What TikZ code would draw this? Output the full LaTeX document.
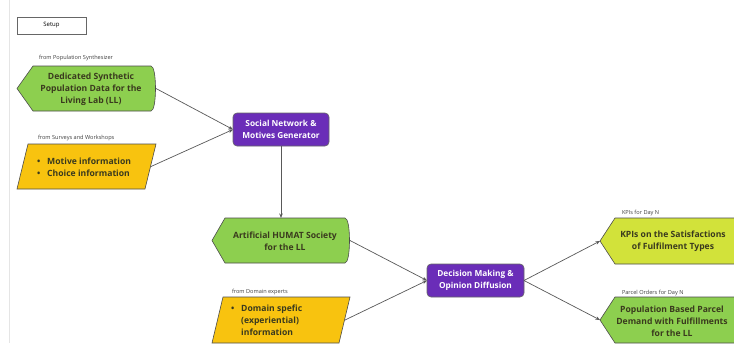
\documentclass[tikz,border=0pt]{standalone}
\usepackage{fontspec}
\setmainfont{Open Sans}
\usetikzlibrary{arrows.meta}
\definecolor{pgreen}{HTML}{8DCF4F}
\definecolor{pyellow}{HTML}{F8C30F}
\definecolor{plime}{HTML}{D2E23A}
\definecolor{ppurple}{HTML}{6A2DB8}
\definecolor{txtdark}{HTML}{3A3A1E}
\newcommand\dispshape[3]{\filldraw[shapeline, fill=#2] ([xshift=#3pt]#1.north west) -- ([xshift=-5pt]#1.north east) .. controls ([xshift=1pt]#1.north east) and ([xshift=1pt]#1.south east) .. ([xshift=-5pt]#1.south east) -- ([xshift=#3pt]#1.south west) -- (#1.west) -- cycle;}
\newcommand\paragram[3]{\filldraw[shapeline, fill=#2] ([xshift=#3pt]#1.north west) -- (#1.north east) -- ([xshift=-#3pt]#1.south east) -- (#1.south west) -- cycle;}
\begin{document}
\begin{tikzpicture}[x=1pt,y=-1pt,
  every node/.style={inner sep=0pt, outer sep=0pt},
  holder/.style={rectangle, anchor=north west},
  boxtext/.style={font=\bfseries\fontsize{8.6}{12}\selectfont, text=txtdark, align=center},
  lbl/.style={font=\fontsize{5.6}{6}\selectfont, text=black!75, anchor=west},
  conn/.style={draw=black!65, line width=0.7pt, -{Stealth[length=4.5pt,width=3.5pt]}},
  purp/.style={rectangle, anchor=north west, rounded corners=4pt, fill=ppurple, draw=black!60, line width=0.6pt, font=\bfseries\fontsize{8.3}{12}\selectfont, text=white, align=center},
  shapeline/.style={draw=black!70, line width=0.6pt}]
\clip (0,0) rectangle (734,343);
\fill[white] (0,0) rectangle (734,343);
\draw[black!10, line width=0.5pt] (9.5,0) -- (9.5,343);

\node[draw=black!60, fill=white, line width=0.6pt, minimum width=69pt, minimum height=17pt, anchor=north west, font=\fontsize{6}{7}\selectfont] (setup) at (17,17) {Setup};

% shape holders
\node[holder, minimum width=139pt, minimum height=45pt] (g1) at (17,66) {};
\node[holder, minimum width=139pt, minimum height=45pt] (y1) at (17,144) {};
\node[holder, minimum width=138pt, minimum height=45pt] (art) at (212,218) {};
\node[holder, minimum width=138pt, minimum height=46pt] (dom) at (212,297) {};
\node[holder, minimum width=145pt, minimum height=46pt] (kpi) at (600,218) {};
\node[holder, minimum width=145pt, minimum height=46pt] (pop) at (600,297) {};

\dispshape{g1}{pgreen}{16}
\paragram{y1}{pyellow}{11}
\dispshape{art}{pgreen}{13}
\paragram{dom}{pyellow}{11}
\dispshape{kpi}{plime}{15}
\dispshape{pop}{pgreen}{15}

\node[purp, minimum width=96pt, minimum height=33pt] (social) at (233,113) {Social Network \&\\Motives Generator};
\node[purp, minimum width=97pt, minimum height=33pt] (dec) at (427,264) {Decision Making \&\\Opinion Diffusion};

% texts
\node[boxtext] (g1t) at (91,89) {Dedicated Synthetic\\Population Data for the\\Living Lab (LL)};
\node[boxtext, align=left, anchor=west] (y1t) at (37,167) {\textbullet\hspace{7pt}Motive information\\\textbullet\hspace{7pt}Choice information};
\node[boxtext] (artt) at (285,241) {Artificial HUMAT Society\\for the LL};
\node[boxtext, align=left, anchor=west] (domt) at (231,321) {\begin{tabular}{@{}l@{\hspace{7pt}}l@{}}\textbullet & Domain spefic\\ & (experiential)\\ & information\end{tabular}};
\node[boxtext] (kpit) at (673,241) {KPIs on the Satisfactions\\of Fulfilment Types};
\node[boxtext] (popt) at (672,321) {Population Based Parcel\\Demand with Fulfillments\\for the LL};

% labels
\node[lbl] (l1) at (39,58) {from Population Synthesizer};
\node[lbl] (l2) at (38,138) {from Surveys and Workshops};
\node[lbl] (l3) at (232,292) {from Domain experts};
\node[lbl] (l4) at (622,213) {KPIs for Day N};
\node[lbl] (l5) at (622,293) {Parcel Orders for Day N};

% connectors
\draw[conn] (g1.east) -- (social.west);
\draw[conn] ([xshift=-5pt]y1.east) -- (social.west);
\draw[conn] (social.south) -- (art.north);
\draw[conn] (art.east) -- (dec.west);
\draw[conn] ([xshift=-5pt]dom.east) -- (dec.west);
\draw[conn] (dec.east) -- (kpi.west);
\draw[conn] (dec.east) -- (pop.west);
\end{tikzpicture}
\end{document}
